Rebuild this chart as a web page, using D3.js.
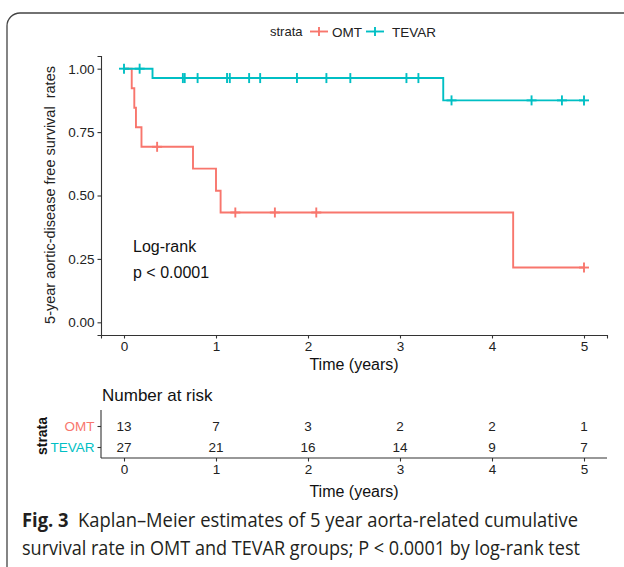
<!DOCTYPE html>
<html><head><meta charset="utf-8">
<script src="https://cdn.jsdelivr.net/npm/d3@7"></script>
<style>body{margin:0;background:#fff}svg{display:block}</style>
</head><body>
<svg id="c" width="624" height="567"></svg>
<script>
// ---- data ----
const groups = ["OMT", "TEVAR"];
const colors = ["#F8766D", "#00BFC4"];
const omtEventTimes = [0.084, 0.112, 0.13, 0.19, 0.75, 1.0, 1.05, 4.23];
const omtSurv       = [0.923, 0.846, 0.769, 0.692, 0.606, 0.519, 0.433, 0.216];
const omtCensor     = [0.36, 1.21, 1.64, 2.09, 5.0];
const tevarEventTimes = [0.31, 3.47];
const tevarSurv       = [0.963, 0.875];
const tevarCensor     = [0, 0.17, 0.64, 0.66, 0.80, 1.12, 1.15, 1.36, 1.48, 1.88, 2.20, 2.46, 3.07, 3.20, 3.56, 4.43, 4.76, 5.0];
const endTime = 5.0;
const xTicks = [0, 1, 2, 3, 4, 5];
const yTicks = [0, 0.25, 0.5, 0.75, 1.0];
const riskTimes = [0, 1, 2, 3, 4, 5];
const omtRisk   = [13, 7, 3, 2, 2, 1];
const tevarRisk = [27, 21, 16, 14, 9, 7];

const svg = d3.select("#c");
const F = "'Liberation Sans', Arial, sans-serif";

// outer frame
svg.append("rect").attr("x", 7).attr("y", 13).attr("width", 660).attr("height", 570)
  .attr("rx", 13).attr("fill", "none").attr("stroke", "#444").attr("stroke-width", 1.3);

const x = d3.scaleLinear().domain([-0.25, 5.25]).range([101, 607]);
const y = d3.scaleLinear().domain([-0.05, 1.05]).range([335, 56]);

// axes
const gx = svg.append("g").attr("transform", `translate(0,${y(-0.05)})`)
  .call(d3.axisBottom(x).tickValues(xTicks).tickFormat(d3.format("d")).tickSizeOuter(0).tickSize(3.5).tickPadding(3));
const gy = svg.append("g").attr("transform", `translate(${x(-0.25)},0)`)
  .call(d3.axisLeft(y).tickValues(yTicks).tickFormat(d3.format(".2f")).tickSizeOuter(0).tickSize(3.5).tickPadding(3));
[gx, gy].forEach(g => {
  g.select(".domain").attr("stroke", "#333").attr("stroke-width", 1.1);
  g.selectAll(".tick line").attr("stroke", "#333").attr("stroke-width", 1.1);
  g.selectAll(".tick text").attr("font-family", F).attr("font-size", 13.5).attr("fill", "#222");
});

svg.append("text").attr("x", 354).attr("y", 370).attr("text-anchor", "middle")
  .attr("font-family", F).attr("font-size", 16).attr("fill", "#111").text("Time (years)");
svg.append("text").attr("transform", "translate(55,195) rotate(-90)").attr("text-anchor", "middle")
  .attr("font-family", F).attr("font-size", 14.5).attr("fill", "#222")
  .attr("xml:space", "preserve").text("5-year aortic-disease free survival  rates");

// curves
function stepPath(times, surv) {
  const pts = [[0, 1]];
  let s = 1;
  times.forEach((t, i) => { pts.push([t, s]); s = surv[i]; pts.push([t, s]); });
  pts.push([endTime, s]);
  return pts;
}
function survAt(times, surv, t) {
  let s = 1;
  times.forEach((tt, i) => { if (tt <= t) s = surv[i]; });
  return s;
}
const series = [
  { name: "OMT", ev: omtEventTimes, sv: omtSurv, cz: omtCensor, color: colors[0] },
  { name: "TEVAR", ev: tevarEventTimes, sv: tevarSurv, cz: tevarCensor, color: colors[1] }
];
const line = d3.line().x(d => x(d[0])).y(d => y(d[1]));
series.forEach(s => {
  svg.append("path").attr("d", line(stepPath(s.ev, s.sv))).attr("fill", "none")
    .attr("stroke", s.color).attr("stroke-width", 1.9);
  const g = svg.append("g").attr("stroke", s.color).attr("stroke-width", 1.9);
  s.cz.forEach(t => {
    const cx = x(t), cy = y(survAt(s.ev, s.sv, t));
    g.append("line").attr("x1", cx - 5).attr("x2", cx + 5).attr("y1", cy).attr("y2", cy);
    g.append("line").attr("x1", cx).attr("x2", cx).attr("y1", cy - 5).attr("y2", cy + 5);
  });
});

// log-rank
svg.append("text").attr("x", 133).attr("y", 251.5).attr("font-family", F).attr("font-size", 16).attr("fill", "#111").text("Log-rank");
svg.append("text").attr("x", 133).attr("y", 278).attr("font-family", F).attr("font-size", 16).attr("fill", "#111").text("p < 0.0001");

// legend
svg.append("text").attr("x", 270).attr("y", 36).attr("font-family", F).attr("font-size", 13).attr("fill", "#222").text("strata");
const legX = [310, 366];
const legTextX = [332, 392];
series.forEach((s, i) => {
  const g = svg.append("g").attr("stroke", s.color).attr("stroke-width", 1.9);
  g.append("line").attr("x1", legX[i]).attr("x2", legX[i] + 18).attr("y1", 31.5).attr("y2", 31.5);
  g.append("line").attr("x1", legX[i] + 9).attr("x2", legX[i] + 9).attr("y1", 27).attr("y2", 36);
  svg.append("text").attr("x", legTextX[i]).attr("y", 36.5).attr("font-family", F).attr("font-size", 13.5)
    .attr("fill", "#222").text(s.name);
});

// risk table
svg.append("text").attr("x", 102).attr("y", 401).attr("font-family", F).attr("font-size", 17).attr("fill", "#111").text("Number at risk");
const yr = d3.scalePoint().domain(["TEVAR", "OMT"]).range([447, 426]);
const gxr = svg.append("g").attr("transform", "translate(0,458)")
  .call(d3.axisBottom(x).tickValues(xTicks).tickFormat(d3.format("d")).tickSizeOuter(0).tickSize(3.5).tickPadding(3));
gxr.select(".domain").attr("d", `M${x(-0.25)},0H${x(5.25)}`);
const gyr = svg.append("g").attr("transform", `translate(${x(-0.25)},0)`)
  .call(d3.axisLeft(yr).tickSizeOuter(0).tickSize(3.5).tickPadding(3));
gyr.select(".domain").attr("d", "M0,410V458");
[gxr, gyr].forEach(g => {
  g.select(".domain").attr("stroke", "#333").attr("stroke-width", 1.1);
  g.selectAll(".tick line").attr("stroke", "#333").attr("stroke-width", 1.1);
  g.selectAll(".tick text").attr("font-family", F).attr("font-size", 13.5).attr("fill", "#222");
});
gyr.selectAll(".tick text").attr("fill", d => colors[groups.indexOf(d)]);
[omtRisk, tevarRisk].forEach((arr, gi) => {
  svg.append("g").selectAll("text").data(arr).join("text")
    .attr("x", (d, i) => x(riskTimes[i])).attr("y", yr(groups[gi]) + 5)
    .attr("text-anchor", "middle").attr("font-family", F).attr("font-size", 13.5).attr("fill", "#222")
    .text(d => d);
});
svg.append("text").attr("transform", "translate(47,436) rotate(-90)").attr("text-anchor", "middle")
  .attr("font-family", F).attr("font-size", 14).attr("font-weight", "bold").attr("fill", "#111").text("strata");
svg.append("text").attr("x", 354).attr("y", 497).attr("text-anchor", "middle")
  .attr("font-family", F).attr("font-size", 16).attr("fill", "#111").text("Time (years)");

// caption
const CF = "'Open Sans', 'Noto Sans', sans-serif";
const c1 = svg.append("text").attr("x", 22).attr("y", 527).attr("font-family", CF).attr("font-size", 20)
  .attr("fill", "#231f20").attr("textLength", 556).attr("lengthAdjust", "spacingAndGlyphs");
c1.append("tspan").attr("font-weight", "bold").text("Fig. 3");
c1.append("tspan").attr("xml:space", "preserve").text("  Kaplan–Meier estimates of 5 year aorta-related cumulative");
svg.append("text").attr("x", 22).attr("y", 555).attr("font-family", CF).attr("font-size", 20)
  .attr("fill", "#231f20").attr("textLength", 558).attr("lengthAdjust", "spacingAndGlyphs")
  .text("survival rate in OMT and TEVAR groups; P < 0.0001 by log-rank test");
</script>
</body></html>
